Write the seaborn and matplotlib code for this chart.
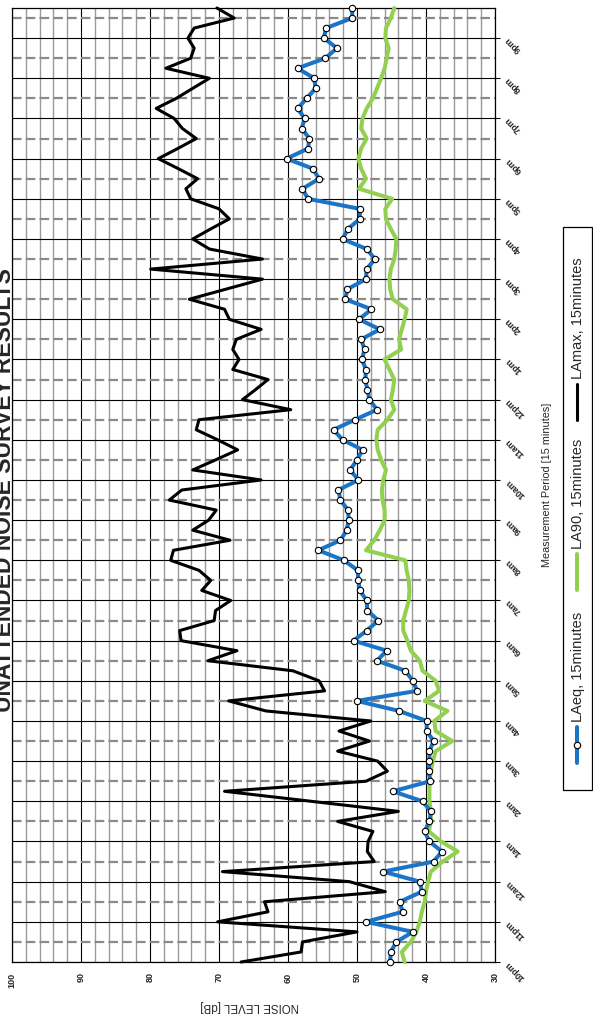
import numpy as np
import pandas as pd
import matplotlib
matplotlib.use("Agg")
import matplotlib.pyplot as plt
from matplotlib.lines import Line2D
from matplotlib.patches import Rectangle
from matplotlib.ticker import MultipleLocator
import seaborn as sns

# Hour labels along the measurement period (one every 4 x 15-minute intervals)
hour_labels = ["10pm", "11pm", "12am", "1am", "2am", "3am", "4am", "5am",
               "6am", "7am", "8am", "9am", "10am", "11am", "12pm", "1pm",
               "2pm", "3pm", "4pm", "5pm", "6pm", "7pm", "8pm", "9pm"]

# 15-minute noise levels [dB], 10:00pm through 9:45pm
laeq = [45.2, 45.1, 44.3, 41.9, 48.7, 43.4, 43.8, 40.6, 40.9, 46.2,
        38.9, 37.7, 39.5, 40.2, 39.5, 39.3, 40.5, 44.8, 39.4, 39.6,
        39.5, 39.5, 38.9, 39.9, 39.9, 43.9, 50.0, 41.3, 41.9, 43.0,
        47.1, 45.7, 50.5, 48.6, 46.9, 48.5, 48.6, 49.6, 49.8, 49.9,
        51.9, 55.6, 52.4, 51.5, 51.2, 51.3, 52.4, 52.7, 49.8, 51.0,
        50.0, 49.2, 52.1, 53.4, 50.3, 47.1, 48.2, 48.5, 48.8, 48.7,
        49.3, 48.9, 49.4, 46.7, 49.7, 47.9, 51.7, 51.4, 48.7, 48.6,
        47.4, 48.6, 52.1, 51.3, 49.6, 49.6, 57.1, 57.9, 55.5, 56.4,
        60.2, 57.1, 56.9, 58.0, 57.6, 58.6, 57.3, 56.0, 56.2, 58.6,
        54.6, 52.9, 54.8, 54.5, 50.7, 50.7]

la90 = [43.1, 43.5, 42.2, 41.4, 40.9, 40.6, 40.2, 40.0, 39.7, 39.3,
        37.6, 35.4, 37.8, 39.6, 39.3, 39.3, 39.5, 39.5, 39.5, 39.3,
        39.0, 38.6, 36.2, 38.6, 38.8, 36.9, 40.2, 38.1, 38.6, 40.5,
        40.9, 42.2, 42.7, 43.3, 43.3, 42.9, 42.5, 42.4, 42.5, 42.8,
        43.0, 48.7, 47.5, 46.7, 46.0, 46.0, 46.3, 46.4, 46.2, 45.8,
        46.5, 47.0, 47.2, 47.0, 45.6, 44.6, 45.1, 44.8, 44.6, 45.3,
        46.0, 43.6, 43.9, 43.5, 43.1, 42.8, 44.8, 45.2, 45.3, 45.1,
        44.6, 44.4, 44.3, 45.1, 45.8, 45.9, 44.9, 49.7, 48.7, 49.4,
        49.8, 49.4, 48.6, 49.4, 49.2, 48.6, 47.7, 47.1, 46.5, 46.0,
        45.7, 45.4, 45.9, 45.8, 45.1, 44.6]

lamax = [66.8, 58.1, 57.9, 50.0, 70.2, 62.9, 63.4, 45.9, 51.1, 69.5,
         47.5, 48.5, 48.4, 47.7, 52.8, 44.0, 56.6, 69.2, 48.7, 45.6,
         47.0, 52.8, 48.2, 52.6, 48.0, 63.2, 68.6, 54.7, 55.5, 59.3,
         71.6, 67.4, 75.5, 75.7, 70.7, 70.5, 68.3, 72.5, 71.2, 72.9,
         77.0, 76.6, 68.4, 73.8, 71.5, 70.4, 77.2, 75.4, 63.9, 73.8,
         70.5, 67.3, 70.2, 73.3, 72.9, 59.6, 66.6, 64.7, 62.9, 68.0,
         67.1, 68.0, 67.5, 63.9, 68.5, 69.2, 74.3, 69.0, 63.7, 79.9,
         63.7, 71.4, 73.8, 71.2, 68.5, 70.0, 74.1, 74.8, 73.1, 75.9,
         78.8, 76.0, 73.3, 75.3, 76.5, 79.1, 76.2, 73.8, 71.4, 77.7,
         74.1, 73.6, 74.5, 73.6, 67.8, 70.3]

series_names = ["LAeq, 15minutes", "LA90, 15minutes", "LAmax, 15minutes"]
noise_ticks = [30, 40, 50, 60, 70, 80, 90, 100]

period = np.arange(len(laeq))
df = pd.DataFrame({"period": period, "LAeq": laeq, "LA90": la90, "LAmax": lamax})

sns.set_style("white")
plt.rcParams["font.family"] = ["Liberation Sans", "DejaVu Sans"]

W, H = 593, 1035
fig = plt.figure(figsize=(W / 100, H / 100), dpi=100)
fig.patch.set_facecolor("white")

def fx(px):
    return px / W

def fy(py):
    return 1 - py / H

ax = fig.add_axes([fx(12), fy(962), (495 - 12) / W, (962 - 8) / H])

BLUE = "#1A75C8"
GREEN = "#92D050"

sns.lineplot(data=df, x="LAmax", y="period", orient="y", estimator=None,
             color="black", lw=2.2, ax=ax, zorder=3, clip_on=False)
sns.lineplot(data=df, x="LA90", y="period", orient="y", estimator=None,
             color=GREEN, lw=2.9, ax=ax, zorder=4, clip_on=False)
sns.lineplot(data=df, x="LAeq", y="period", orient="y", estimator=None,
             color=BLUE, lw=2.9, marker="o", markersize=4.6,
             markerfacecolor="white", markeredgecolor="black",
             markeredgewidth=0.8, ax=ax, zorder=5, clip_on=False)

# noise level axis: 100 on the left, 30 on the right
ax.set_xlim(100, 30)
ax.set_ylim(0, len(laeq) - 1)
ax.set_xticks(noise_ticks)
ax.set_xticklabels([str(t) for t in noise_ticks], rotation=90,
                   fontsize=6.5, fontweight="bold")
ax.xaxis.set_minor_locator(MultipleLocator(2))
ax.tick_params(axis="x", which="both", length=0, pad=7.5)

# time axis on the right, one major tick per hour, grid every half hour
ax.yaxis.tick_right()
ax.set_yticks(np.arange(0, len(laeq), 4))
ax.set_yticklabels(hour_labels, rotation=135, rotation_mode="anchor",
                   ha="right", va="center", fontsize=6.5, fontweight="bold")
ax.yaxis.set_minor_locator(MultipleLocator(2))
ax.tick_params(axis="y", which="major", length=3.5, width=0.8,
               color="black", direction="out", pad=5)
ax.tick_params(axis="y", which="minor", length=0)

ax.set_xlabel("")
ax.set_ylabel("")
ax.set_axisbelow(True)
ax.grid(False)
ax.grid(True, axis="x", which="minor", color="#9a9a9a", lw=1.0)
ax.grid(True, axis="x", which="major", color="black", lw=0.8)
ax.grid(True, axis="y", which="minor", color="#8a8a8a", lw=1.6,
        linestyle=(0, (4.3, 1.9)))
ax.grid(True, axis="y", which="major", color="black", lw=0.8)
for sp in ax.spines.values():
    sp.set_visible(True)
    sp.set_color("black")
    sp.set_linewidth(0.9)

# titles and axis labels
fig.text(fx(11.5), fy(490), "UNATTENDED NOISE SURVEY RESULTS", rotation=90,
         rotation_mode="anchor", ha="center", va="baseline",
         fontsize=16.5, fontweight="bold")
fig.text(fx(250), fy(1006), "NOISE LEVEL [dB]", rotation=180,
         ha="center", va="center", fontsize=8.3)
fig.text(fx(547), fy(485), "Measurement Period [15 minutes]", rotation=90,
         ha="center", va="center", fontsize=7.8)

# legend box with vertical entries
fig.add_artist(Rectangle((fx(563), fy(790)), (592 - 563) / W, (790 - 227) / H,
                         transform=fig.transFigure, facecolor="white",
                         edgecolor="black", lw=0.9, zorder=1))
lx = 577
entries = [
    (series_names[0], BLUE, 2.9, True, 763),
    (series_names[1], GREEN, 2.9, False, 590),
    (series_names[2], "black", 2.2, False, 420),
]
for label, col, lw, mark, bottom in entries:
    top = bottom - 36
    fig.add_artist(Line2D([fx(lx), fx(lx)], [fy(bottom), fy(top)],
                          transform=fig.transFigure, color=col, lw=lw, zorder=2))
    if mark:
        fig.add_artist(Line2D([fx(lx)], [fy((bottom + top) / 2)],
                              transform=fig.transFigure, marker="o",
                              markersize=4.6, markerfacecolor="white",
                              markeredgecolor="black", markeredgewidth=0.8,
                              lw=0, zorder=3))
    fig.text(fx(lx + 1), fy(top - 5), label, rotation=90, ha="center",
             va="bottom", fontsize=10.5, zorder=3)

fig.savefig("out.png", dpi=100, facecolor="white")
